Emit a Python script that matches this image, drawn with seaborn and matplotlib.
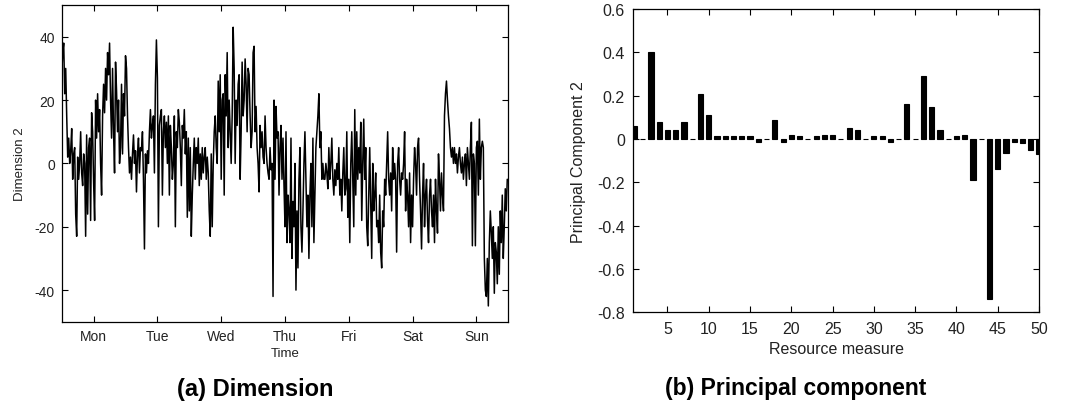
import numpy as np
import pandas as pd
import matplotlib
matplotlib.use("Agg")
import matplotlib.pyplot as plt
import seaborn as sns
from matplotlib.ticker import FuncFormatter

# ---------------- data ----------------
day_labels = ["Mon", "Tue", "Wed", "Thu", "Fri", "Sat", "Sun"]

mon = [28, 35, 38, 22, 30, 15, 2, 8,
       0, 4, 11, -5, 3, 5, -16, -23,
       2, -5, 0, 10, -3, -7, 3, 0,
       -23, 9, -16, 5, 8, -18, 16, 10,
       -6, -18, 20, 8, 22, 10, 17, 0,
       -10, 15, 25, 16, 30, 20, 35, 28,
       38, 20, 8, 30, 10, -3, 32, 23,
       10, 20, 0, 5, 25, 3, 22, 15]
tue = [34, 30, 15, 5, -3, 2, -5, 3,
       9, 0, 4, -9, 3, 8, -3, 5,
       4, 10, -5, -27, 3, -3, 4, 0,
       10, 17, 8, 12, 15, -3, 25, 39,
       27, -20, 12, 15, 17, -10, 10, 15,
       5, 13, 0, 15, -10, 12, 5, -5,
       0, 15, -20, 10, 5, 17, 13, 5,
       -7, 12, 8, 17, 3, 10, -17, 8]
wed = [-15, 5, -23, -10, 0, 8, -5, 5,
       0, 8, -7, 3, -5, 5, -3, 2,
       5, -5, 2, -3, -15, -23, 3, -20,
       0, 10, 15, 5, 0, 26, 10, 28,
       -5, 20, 22, -10, 28, 15, 35, 5,
       20, 10, 0, 15, 43, 30, 0, 20,
       12, 25, 28, -5, 10, 32, 15, 20,
       33, 25, 10, 30, 28, 15, 5, 10]
thu = [35, 37, 10, 18, 5, 0, -9, 12,
       5, 10, 2, 0, 15, 5, 0, -3,
       -5, 5, -2, 0, -42, 20, -5, 18,
       8, 10, -10, 5, 12, -5, 8, -7,
       -20, 10, -25, -10, -15, -25, 8, -30,
       -12, -20, 0, -40, -15, -33, -5, 5,
       -20, -28, -15, 0, 10, -5, -20, -10,
       -30, -10, 0, -20, 8, -25, -10, 5]
fri = [10, 15, 22, 5, 10, -5, 0, -5,
       -5, 0, -3, -8, 5, -5, 0, 8,
       -5, -10, -2, -7, 0, -5, 5, -10,
       -5, -15, -3, 5, -10, -8, 10, -17,
       -5, -25, 0, 10, -5, -20, 17, -10,
       10, -5, 5, -3, 13, -18, 0, 14,
       -5, 5, -20, -26, -10, 5, -12, -30,
       0, -15, -10, -3, -20, -18, -25, -10]
sat = [-28, -33, -15, -20, -5, -10, 0, 10,
       -5, -10, -3, -15, 5, -5, 0, -5,
       -28, 0, 5, -5, -10, -3, -5, 0,
       10, -15, -5, -10, -20, -3, -25, -10,
       -20, -5, 5, 0, -10, 5, 8, -5,
       -15, -27, -10, 0, -20, -10, -5, -18,
       -25, -10, -5, -15, -20, -10, -25, -5,
       -15, -22, 3, -5, -15, -3, -10, -15]
sun = [15, 22, 26, 20, 15, 11, 5, 2,
       5, 0, 5, 0, 3, -3, 2, 5,
       0, -3, 2, -5, 0, 3, -7, 5,
       0, -5, 5, 13, -26, 3, 0, -26,
       5, 7, -10, 14, -5, 5, 7, 5,
       -30, -40, -42, -30, -45, -25, -15, -22,
       -30, -20, -41, -25, -28, -38, -20, -35,
       -15, -25, -10, -30, -20, -8, -15, -5]

measures = list(range(1, 51))
pc2 = [0.06, 0.0, 0.40, 0.08, 0.04, 0.04, 0.08, 0.0, 0.21, 0.11,
       0.014, 0.014, 0.014, 0.014, 0.014, -0.014, 0.0, 0.09, -0.014, 0.02,
       0.014, 0.0, 0.014, 0.02, 0.02, 0.0, 0.05, 0.04, 0.0, 0.014,
       0.014, -0.014, 0.0, 0.16, 0.0, 0.29, 0.15, 0.04, 0.0, 0.014,
       0.02, -0.19, 0.0, -0.74, -0.14, -0.065, -0.014, -0.02, -0.05, -0.07]

# ---------------- style ----------------
sns.set_theme(style="ticks")
plt.rcParams["font.family"] = ["Liberation Sans", "DejaVu Sans"]
plt.rcParams["axes.unicode_minus"] = False
plt.rcParams["xtick.direction"] = "in"
plt.rcParams["ytick.direction"] = "in"

fig = plt.figure(figsize=(10.66, 4.06), dpi=100)
ax1 = fig.add_axes([0.0579, 0.205, 0.4189, 0.780])
ax2 = fig.add_axes([0.594, 0.228, 0.3807, 0.747])

# ---------------- left: time series ----------------
series = mon + tue + wed + thu + fri + sat + sun
n_per_day = len(mon)
t = np.arange(len(series)) / n_per_day
df1 = pd.DataFrame({"t": t, "v": series})
sns.lineplot(data=df1, x="t", y="v", ax=ax1, color="black", linewidth=1.1)
ax1.set_xlim(0, 7)
ax1.set_ylim(-50, 50)
ax1.set_xticks(np.arange(7) + 0.5)
ax1.set_xticklabels(day_labels)
ax1.set_yticks([-40, -20, 0, 20, 40])
ax1.tick_params(axis="both", which="both", labelsize=10, top=True, right=True,
                length=4, width=0.8, color="black", pad=5, labelcolor="#222222")
ax1.set_xlabel("Time", fontsize=9.5, labelpad=3, color="#222222")
ax1.set_ylabel("Dimension 2", fontsize=9.5, labelpad=6, color="#222222")
for s in ax1.spines.values():
    s.set_linewidth(0.9)
    s.set_color("black")

# ---------------- right: bars ----------------
df2 = pd.DataFrame({"m": measures, "pc": pc2})
sns.barplot(data=df2, x="m", y="pc", ax=ax2, native_scale=True, color="black",
            width=0.62, edgecolor="black", linewidth=0.8, saturation=1)
ax2.set_xlim(0.85, 50)
ax2.set_ylim(-0.8, 0.6)
ax2.set_xticks(range(5, 51, 5))
ax2.set_yticks(np.arange(-0.8, 0.61, 0.2))
ax2.yaxis.set_major_formatter(FuncFormatter(lambda v, p: "0" if abs(v) < 1e-9 else f"{v:.1f}"))
ax2.tick_params(axis="both", which="both", labelsize=11.5, top=True, right=True,
                length=4, width=0.8, color="black", pad=6, labelcolor="#222222")
ax2.set_xlabel("Resource measure", fontsize=11.5, labelpad=4, color="#222222")
ax2.set_ylabel("Principal Component 2", fontsize=11.5, labelpad=8, color="#222222")
for s in ax2.spines.values():
    s.set_linewidth(0.9)
    s.set_color("black")

fig.text(0.239, 0.04, "(a) Dimension", ha="center", va="center",
         fontsize=17, fontweight="bold", color="black")
fig.text(0.746, 0.044, "(b) Principal component", ha="center", va="center",
         fontsize=16.5, fontweight="bold", color="black")

fig.savefig("out.png", dpi=100)
